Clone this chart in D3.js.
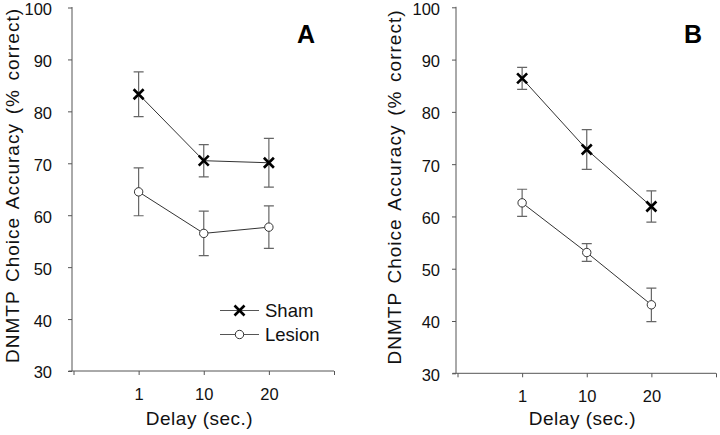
<!DOCTYPE html>
<html>
<head>
<meta charset="utf-8">
<script src="https://cdn.jsdelivr.net/npm/d3@7"></script>
<style>
  body { margin: 0; background: #fff; }
  svg { display: block; font-family: "Liberation Sans", Arial, Helvetica, sans-serif; }
</style>
</head>
<body>
<div id="chart"></div>
<script>
// data
const delays = ['1', '10', '20'];
const shamA = [83.3, 70.5, 70.1];
const shamErrA = [4.3, 3.1, 4.7];
const lesionA = [64.5, 56.5, 57.7];
const lesionErrA = [4.6, 4.3, 4.1];
const shamB = [86.4, 72.8, 61.9];
const shamErrB = [2.1, 3.8, 3.0];
const lesionB = [62.6, 53.1, 43.1];
const lesionErrB = [2.6, 1.7, 3.2];
const yTicks = [30, 40, 50, 60, 70, 80, 90, 100];
const yTitle = 'DNMTP Choice Accuracy (% correct)';
const xTitle = 'Delay (sec.)';

const svg = d3.select('#chart').append('svg')
  .attr('width', 720)
  .attr('height', 435);

const axisColor = '#555';
const barColor = '#666';
const lineColor = '#333';

function drawPanel(cfg) {
  const g = svg.append('g').attr('class', 'panel');

  // x positions: 0 and 4 are the unlabeled ends of the axis
  const x = d3.scaleLinear().domain([0, 4]).range([cfg.left, cfg.right]);
  const y = d3.scaleLinear().domain([30, 100]).range([cfg.bottom, cfg.top]);

  // y axis
  const yAx = g.append('g')
    .attr('transform', `translate(${cfg.left - 1.5},0)`)
    .call(d3.axisLeft(y).tickValues(yTicks).tickSize(4).tickSizeOuter(0).tickPadding(cfg.yPad));
  yAx.select('.domain').attr('stroke', axisColor).attr('d', `M0,${cfg.top - 0.5}V${cfg.bottom}`);
  yAx.selectAll('.tick line').attr('stroke', axisColor);
  yAx.selectAll('.tick text').attr('font-size', 16.5).attr('dy', '0.42em').attr('fill', '#111');

  // x axis
  const xAx = g.append('g')
    .attr('transform', `translate(0,${cfg.bottom})`)
    .call(d3.axisBottom(x).tickValues([0, 1, 2, 3, 4])
      .tickFormat(d => (d >= 1 && d <= 3) ? delays[d - 1] : '')
      .tickSize(4).tickSizeOuter(0).tickPadding(13));
  xAx.select('.domain').attr('stroke', axisColor).attr('d', `M${cfg.left - 5},0H${cfg.right}`);
  xAx.selectAll('.tick line').attr('stroke', axisColor);
  xAx.selectAll('.tick text').attr('font-size', 16.5).attr('fill', '#111');

  // axis titles
  const yt = g.append('text')
    .attr('transform', `translate(${cfg.yTitleX},${cfg.yTitleY}) rotate(-90)`)
    .attr('text-anchor', 'middle')
    .attr('font-size', 19)
    .attr('letter-spacing', 1)
    .attr('fill', '#111')
    .text(yTitle);
  // widen word gaps like the original
  const natural = yt.node().getComputedTextLength();
  const gaps = yTitle.split(' ').length - 1;
  yt.attr('word-spacing', Math.min(8, Math.max(0, (355 - natural) / gaps)));

  g.append('text')
    .attr('x', cfg.xTitleX)
    .attr('y', 425)
    .attr('text-anchor', 'middle')
    .attr('font-size', 19)
    .attr('letter-spacing', 0.5)
    .attr('fill', '#111')
    .text(xTitle);

  g.append('text')
    .attr('x', cfg.letterX)
    .attr('y', 43)
    .attr('font-size', 25)
    .attr('font-weight', 'bold')
    .attr('fill', '#000')
    .text(cfg.letter);

  const line = d3.line().x((d, i) => x(i + 1)).y(d => y(d));

  const series = [
    { vals: cfg.sham, err: cfg.shamErr, kind: 'x' },
    { vals: cfg.lesion, err: cfg.lesionErr, kind: 'o' }
  ];

  series.forEach(s => {
    // error bars
    const eb = g.append('g');
    s.vals.forEach((v, i) => {
      const cx = x(i + 1);
      const y0 = y(v + s.err[i]);
      const y1 = y(v - s.err[i]);
      eb.append('path')
        .attr('d', `M${cx},${y0}V${y1}M${cx - 5},${y0}H${cx + 5}M${cx - 5},${y1}H${cx + 5}`)
        .attr('stroke', barColor)
        .attr('stroke-width', 1.2)
        .attr('fill', 'none');
    });

    g.append('path')
      .datum(s.vals)
      .attr('d', line)
      .attr('fill', 'none')
      .attr('stroke', lineColor)
      .attr('stroke-width', 1);

    s.vals.forEach((v, i) => drawMarker(g, s.kind, x(i + 1), y(v)));
  });

  if (cfg.legend) {
    const items = [{ label: 'Sham', kind: 'x' }, { label: 'Lesion', kind: 'o' }];
    items.forEach((it, i) => {
      const ly = 310.5 + i * 24;
      g.append('line')
        .attr('x1', 220).attr('x2', 259)
        .attr('y1', ly).attr('y2', ly)
        .attr('stroke', '#555')
        .attr('stroke-width', 1);
      drawMarker(g, it.kind, 239.5, ly);
      g.append('text')
        .attr('x', 265)
        .attr('y', ly + 6.5)
        .attr('font-size', 18.5)
        .attr('fill', '#111')
        .text(it.label);
    });
  }
}

function drawMarker(g, kind, cx, cy) {
  if (kind === 'x') {
    const r = 5;
    g.append('path')
      .attr('d', `M${cx - r},${cy - r}L${cx + r},${cy + r}M${cx - r},${cy + r}L${cx + r},${cy - r}`)
      .attr('stroke', '#000')
      .attr('stroke-width', 2.6)
      .attr('fill', 'none');
  } else {
    g.append('circle')
      .attr('cx', cx).attr('cy', cy).attr('r', 4.2)
      .attr('fill', '#fff')
      .attr('stroke', '#333')
      .attr('stroke-width', 1);
  }
}

drawPanel({
  letter: 'A', letterX: 297,
  left: 73.5, right: 334, top: 7.5, bottom: 371, yPad: 16,
  yTitleX: 19, yTitleY: 185.5, xTitleX: 199.5,
  sham: shamA, shamErr: shamErrA, lesion: lesionA, lesionErr: lesionErrA,
  legend: true
});

drawPanel({
  letter: 'B', letterX: 684,
  left: 457.5, right: 716, top: 7.3, bottom: 373.3, yPad: 12,
  yTitleX: 401, yTitleY: 187, xTitleX: 582.5,
  sham: shamB, shamErr: shamErrB, lesion: lesionB, lesionErr: lesionErrB,
  legend: false
});
</script>
</body>
</html>
